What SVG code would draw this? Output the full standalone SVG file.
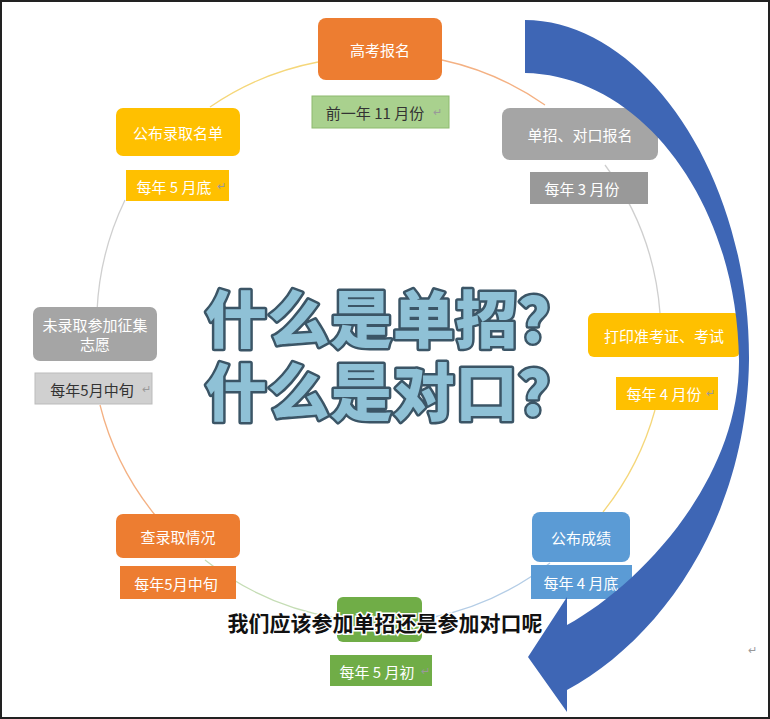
<svg xmlns="http://www.w3.org/2000/svg" width="770" height="719" viewBox="0 0 770 719">
<style>
.n{font-family:"Noto Sans CJK SC","Liberation Sans",sans-serif;font-size:15px;text-anchor:middle;dominant-baseline:central}
.w{fill:#fff}.d{fill:#333}
.r{font-family:"Liberation Sans",sans-serif;font-size:11px;fill:#999}
.c{fill:none;stroke-width:1.3}
</style>
<rect width="770" height="719" fill="#fff"/>
<rect x="1" y="1" width="768" height="717" fill="none" stroke="#222" stroke-width="2"/>
<g id="connectors">
<path class="c" stroke="#F5D77A" d="M318,62 A285,285 0 0 0 210,107"/>
<path class="c" stroke="#F4B183" d="M442,60 A285,285 0 0 1 545,105"/>
<path class="c" stroke="#CFCFCF" d="M605,165 A285,285 0 0 1 660,313"/>
<path class="c" stroke="#F5D77A" d="M655,410 A285,285 0 0 1 603,512"/>
<path class="c" stroke="#B4CDE6" d="M550,563 A285,285 0 0 1 430,618"/>
<path class="c" stroke="#C5DDB5" d="M337,618 A285,285 0 0 1 205,560"/>
<path class="c" stroke="#F4B183" d="M155,515 A285,285 0 0 1 100,405"/>
<path class="c" stroke="#CFCFCF" d="M97,311 A285,285 0 0 1 125,200"/>
</g>
<g id="n1"><rect x="318" y="18" width="124" height="62" rx="8" fill="#ED7D31"/><text class="n w" x="380" y="49">高考报名</text>
<rect x="312" y="96" width="137" height="32" fill="#A9D18E" stroke="#8DBA6F"/><text class="n d" x="375" y="112">前一年 11 月份</text><text class="r" x="433" y="116">↵</text></g>
<g id="n2"><rect x="502" y="108" width="156" height="52" rx="8" fill="#A5A5A5"/><text class="n w" x="580" y="134">单招、对口报名</text>
<rect x="530" y="172" width="118" height="32" fill="#999"/><text class="n w" x="582" y="188">每年 3 月份</text><text class="r" x="623" y="192">↵</text></g>
<g id="n3"><rect x="588" y="313" width="152" height="44" rx="6" fill="#FFC000"/><text class="n w" x="664" y="335">打印准考证、考试</text>
<rect x="616" y="377" width="102" height="33" fill="#FFC000"/><text class="n w" x="664" y="393">每年 4 月份</text><text class="r" x="706" y="397">↵</text></g>
<g id="n4"><rect x="532" y="512" width="98" height="50" rx="8" fill="#5B9BD5"/><text class="n w" x="581" y="537">公布成绩</text>
<rect x="531" y="565" width="101" height="34" fill="#5B9BD5"/><text class="n w" x="581" y="582">每年 4 月底</text></g>
<g id="n5"><rect x="337" y="597" width="85" height="45" rx="6" fill="#70AD47"/>
<rect x="330" y="655" width="102" height="31" fill="#70AD47"/><text class="n w" x="377" y="671">每年 5 月初</text><text class="r" x="421" y="675">↵</text></g>
<g id="n6"><rect x="116" y="514" width="124" height="44" rx="7" fill="#ED7D31"/><text class="n w" x="178" y="536">查录取情况</text>
<rect x="120" y="566" width="116" height="33" fill="#ED7D31"/><text class="n w" x="176" y="583">每年5月中旬</text></g>
<g id="n7"><rect x="33" y="307" width="124" height="54" rx="7" fill="#A5A5A5"/><text class="n w" x="95" y="324">未录取参加征集</text><text class="n w" x="95" y="343">志愿</text>
<rect x="35" y="373" width="117" height="31" fill="#D0D0D0" stroke="#bbb"/><text class="n d" x="92" y="389">每年5月中旬</text><text class="r" x="142" y="393">↵</text></g>
<g id="n8"><rect x="116" y="108" width="124" height="48" rx="7" fill="#FFC000"/><text class="n w" x="178" y="132">公布录取名单</text>
<rect x="126" y="170" width="103" height="31" fill="#FFC000"/><text class="n w" x="174" y="186">每年 5 月底</text><text class="r" x="217" y="190">↵</text></g>
<path id="arrow" fill="#3E66B5" d="M525,20 C640,20 750,170 749,360 C747,520 660,640 567,690 L567,712 L528,657 L567,597 L567,625 C640,585 740,480 739,360 C737,200 640,75 525,73 Z"/>
<g font-family="Noto Sans CJK SC,sans-serif" font-weight="900" font-size="62" fill="#8FC1D6" stroke="#3B5566" stroke-width="5" paint-order="stroke" stroke-linejoin="round">
<text x="205" y="343" textLength="375">什么是单招？</text>
<text x="205" y="416" textLength="375">什么是对口？</text>
</g>
<text x="385" y="622" text-anchor="middle" dominant-baseline="central" font-family="Noto Sans CJK SC,sans-serif" font-weight="700" font-size="21" fill="#111" stroke="#fff" stroke-width="3" paint-order="stroke">我们应该参加单招还是参加对口呢</text>
<text class="r" x="748" y="654">↵</text>
</svg>
